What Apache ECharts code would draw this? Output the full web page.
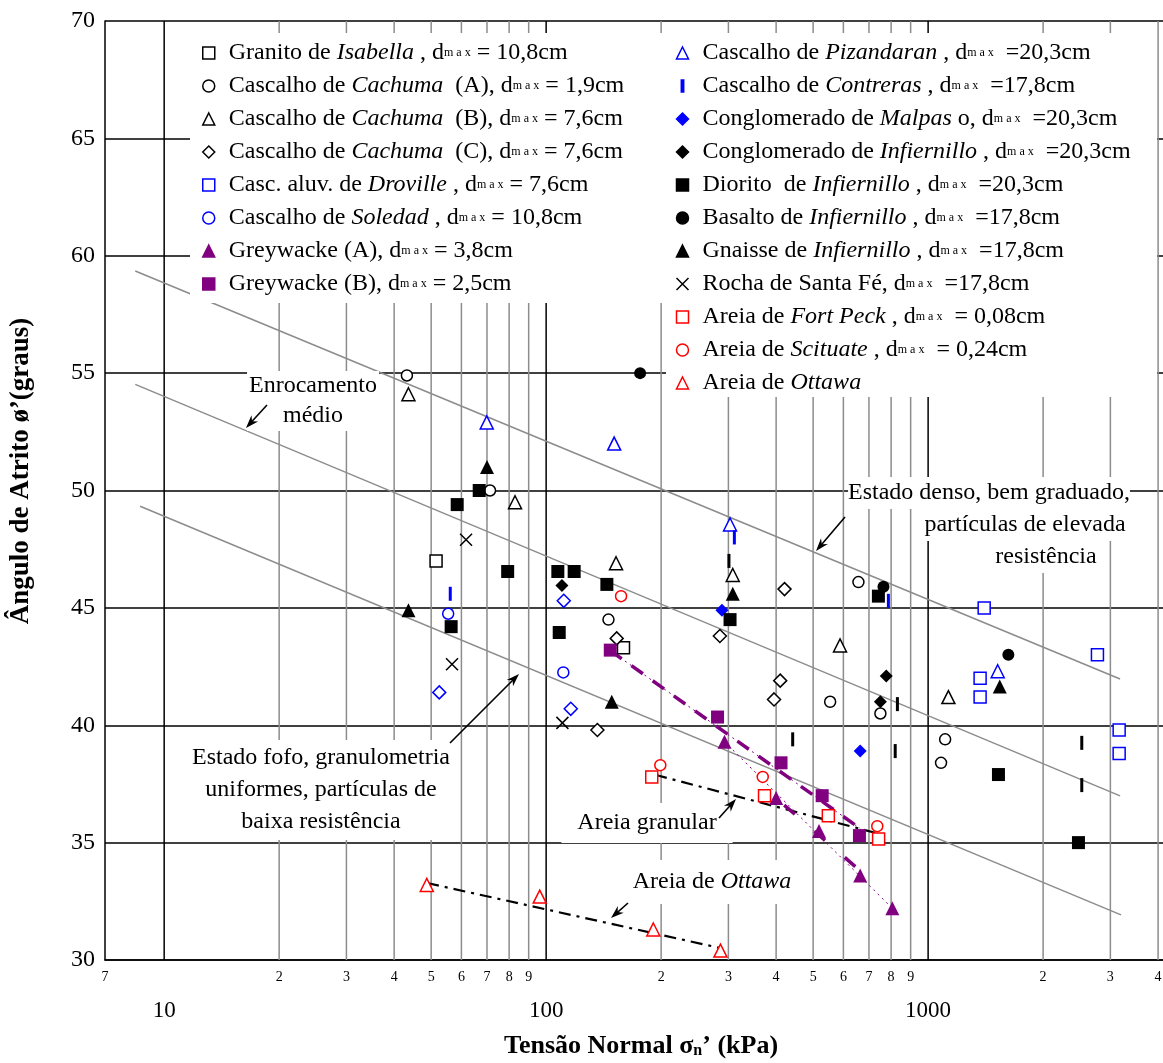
<!DOCTYPE html>
<html><head><meta charset="utf-8">
<script src="https://cdn.jsdelivr.net/npm/echarts@6/dist/echarts.min.js"></script>
<style>html,body{margin:0;padding:0;background:#fff}#c{width:1163px;height:1063px}</style>
</head><body><div id="c"></div>
<script>
const FONT = '"Liberation Serif", "Times New Roman", serif';

// ---------- data (x = tensão normal kPa, y = ângulo de atrito graus) ----------
const granito = [[51.5,47.0],[159.4,43.3]];
const cachumaA = [[43.2,54.9],[71.3,50.0],[145.6,44.5],[657,46.1],[554,41.0],[750,40.5],[1108,39.4],[1081,38.4]];
const cachumaB = [[43.6,54.1],[82.9,49.5],[152.4,46.9],[308,46.4],[588,43.4],[1130,41.2]];
const cachumaC = [[136.2,39.8],[153,43.7],[285,43.8],[420.8,45.8],[410,41.9],[395,41.1]];
const droville = [[1402,45.0],[1368,42.0],[1368,41.2],[2775,43.0],[3163,39.8],[3163,38.8]];
const soledad = [[55.4,44.75],[110.9,42.25]];
const losangoAzul = [[52.5,41.4],[111.2,45.3],[116,40.7]];
const greywackeA = [[293,39.3],[400,36.9],[518,35.5],[664,33.6],[806,32.2]];
const greywackeB = [[147.2,43.2],[281,40.35],[412,38.4],[528,37.0],[661,35.3]];
const pizandaran = [[69.9,52.9],[150.7,52.0],[303,48.55],[1521,42.3]];
const contreras = [[56.1,45.6],[311,48.0],[787,45.3]];
const barrasPretas = [[301,47.0],[442,39.4],[831,40.9],[820,38.9],[2525,39.25],[2525,37.45]];
const malpaso = [[288.5,44.9],[664,38.9]];
const conglInfiernillo = [[110,45.95],[777,42.1],[750,41.0]];
const diorito = [[58.5,49.4],[66.8,50.0],[56.4,44.2],[79.3,46.55],[107.3,46.55],[118.4,46.55],[108.2,43.95],[144.2,46.0],[303,44.5],[741,45.5],[1528,37.9],[2475,35.0]];
const basalto = [[176.2,55.0],[764,45.9],[1622,43.0]];
const gnaisse = [[43.6,44.9],[70,51.0],[148.5,41.0],[308,45.6],[1540,41.65]];
const santaFe = [[61.7,47.9],[56.7,42.6],[110.3,40.1]];
const fortPeck = [[189,37.8],[373,37.0],[548,36.15],[742,35.15]];
const scituate = [[157.1,45.5],[199,38.3],[369,37.8],[736,35.7]];
const ottawa = [[48.7,33.2],[96.2,32.7],[190.8,31.3],[286,30.4]];

// envelope lines and trend lines
const linhaSuperior = [[8.40,59.35],[3181,41.97]];
const linhaMedia = [[8.40,54.52],[3181,36.99]];
const linhaInferior = [[8.65,49.33],[3199,31.92]];
const tendOttawa = [[48.8,33.28],[285.5,30.51]];
const tendGranular = [[192.9,37.89],[726.6,35.42]];
const tendGreywackeB = [[147.2,43.18],[664,35.6]];
const tendGreywackeA = [[293,39.3],[806,32.2]];
const tendGreywackeA2 = [[420,36.6],[664,33.8]];

// ticks
const xMajorTicks = [10,100,1000];
const xMajorLabels = ['10','100','1000'];
const xMinorTicks = [20,30,40,50,60,70,80,90,200,300,400,500,600,700,800,900,2000,3000,4000];
const xMinorLabelValues = [7,20,30,40,50,60,70,80,90,200,300,400,500,600,700,800,900,2000,3000,4000];
const xMinorLabels = ['7','2','3','4','5','6','7','8','9','2','3','4','5','6','7','8','9','2','3','4'];

// legend
const legendLeftNames = ['Granito de Isabella','Cascalho de Cachuma (A)','Cascalho de Cachuma (B)','Cascalho de Cachuma (C)','Casc. aluv. de Droville','Cascalho de Soledad','Greywacke (A)','Greywacke (B)'];
const legendLeftTexts = [
 'Granito de {i|Isabella} , d{s|m a x} = 10,8cm',
 'Cascalho de {i|Cachuma}  (A), d{s|m a x} = 1,9cm',
 'Cascalho de {i|Cachuma}  (B), d{s|m a x} = 7,6cm',
 'Cascalho de {i|Cachuma}  (C), d{s|m a x} = 7,6cm',
 'Casc. aluv. de {i|Droville} , d{s|m a x} = 7,6cm',
 'Cascalho de {i|Soledad} , d{s|m a x} = 10,8cm',
 'Greywacke (A), d{s|m a x} = 3,8cm',
 'Greywacke (B), d{s|m a x} = 2,5cm'];
const legendRightNames = ['Cascalho de Pizandaran','Cascalho de Contreras','Conglomerado de Malpaso','Conglomerado de Infiernillo','Diorito de Infiernillo','Basalto de Infiernillo','Gnaisse de Infiernillo','Rocha de Santa Fé','Areia de Fort Peck','Areia de Scituate','Areia de Ottawa'];
const legendRightTexts = [
 'Cascalho de {i|Pizandaran} , d{s|m a x}  =20,3cm',
 'Cascalho de {i|Contreras} , d{s|m a x}  =17,8cm',
 'Conglomerado de {i|Malpas} o, d{s|m a x}  =20,3cm',
 'Conglomerado de {i|Infiernillo} , d{s|m a x}  =20,3cm',
 'Diorito  de {i|Infiernillo} , d{s|m a x}  =20,3cm',
 'Basalto de {i|Infiernillo} , d{s|m a x}  =17,8cm',
 'Gnaisse de {i|Infiernillo} , d{s|m a x}  =17,8cm',
 'Rocha de Santa Fé, d{s|m a x}  =17,8cm',
 'Areia de {i|Fort Peck} , d{s|m a x}  = 0,08cm',
 'Areia de {i|Scituate} , d{s|m a x}  = 0,24cm',
 'Areia de {i|Ottawa}'];

// ---------- styles ----------
const BLUE = '#0000ff', RED = '#ff0000', PURPLE = '#800080', BLACK = '#000';
const BAR = 'path://M0,0L2,0L2,10L0,10Z';
const CROSS = 'path://M0,0L10,10M10,0L0,10';
const FS = 24;

function sc(name, data, symbol, size, fill, stroke, bw) {
  return { type:'scatter', name, data, symbol, symbolSize:size, z:6, silent:true,
    itemStyle:{ color:fill, borderColor:stroke, borderWidth:bw, opacity:1 },
    emphasis:{ disabled:true } };
}
function ln(name, data, color, width, type, z) {
  return { type:'line', name, data, showSymbol:false, symbol:'none', silent:true, z:z||5,
    lineStyle:{ color, width, type }, emphasis:{ disabled:true } };
}

const richLegend = {
  i:{ fontStyle:'italic', fontFamily:FONT, fontSize:FS, lineHeight:24, color:'#000' },
  s:{ fontFamily:FONT, fontSize:12, lineHeight:24, color:'#000' }
};
const legendMap = {};
legendLeftNames.forEach((n,k)=>legendMap[n]=legendLeftTexts[k]);
legendRightNames.forEach((n,k)=>legendMap[n]=legendRightTexts[k]);

function arrow(x1,y1,x2,y2) {
  const dx = x2-x1, dy = y2-y1, L = Math.hypot(dx,dy), ux = dx/L, uy = dy/L;
  const hl = 13, hw = 4.5;
  const bx = x2-ux*hl, by = y2-uy*hl;
  return [
    { type:'line', z:4, silent:true, shape:{x1, y1, x2:x2-ux*6, y2:y2-uy*6}, style:{stroke:'#000', lineWidth:1.6} },
    { type:'polygon', z:4, silent:true, shape:{points:[[x2,y2],[bx-uy*hw,by+ux*hw],[x2-ux*9,y2-uy*9],[bx+uy*hw,by-ux*hw]]}, style:{fill:'#000'} }
  ];
}
function txt(x,y,text,opt) {
  return { type:'text', x, y, z:4, silent:true, style:Object.assign({
    text, font:FS+'px '+FONT, fill:'#000', align:'center', verticalAlign:'middle',
    textAlign:'center', textVerticalAlign:'middle', backgroundColor:'#fff', padding:[2,4]
  }, opt||{}) };
}

const graphics = [
  { type:'rect', z:3, silent:true, shape:{x:190,y:33,width:476,height:270}, style:{fill:'#fff'} },
  { type:'rect', z:3, silent:true, shape:{x:666,y:33,width:491,height:364}, style:{fill:'#fff'} },
  txt(313,401,'Enrocamento\nmédio',{lineHeight:30, padding:[0,2]}),
  txt(989,493,'Estado denso, bem graduado,',{padding:[4,0]}),
  txt(1025,525,'partículas de elevada',{padding:[4,2]}),
  txt(1046,557,'resistência',{padding:[4,6]}),
  txt(321,790,'Estado fofo, granulometria\nuniformes, partículas de\nbaixa resistência',{lineHeight:32, padding:[2,10]}),
  txt(647,823,'Areia granular',{padding:[8,16]}),
  { type:'text', x:712, y:882, z:4, silent:true, style:{
      text:'Areia de {it|Ottawa}', font:FS+'px '+FONT, fill:'#000', align:'center', verticalAlign:'middle',
      textAlign:'center', textVerticalAlign:'middle', backgroundColor:'#fff', padding:[10,4],
      rich:{ it:{ fontStyle:'italic', fontFamily:FONT, fontSize:FS } } } },
  ...arrow(267,405,246,428),
  ...arrow(845,517,816,551),
  ...arrow(450,743,519,674),
  ...arrow(719,818,736,799),
  ...arrow(628,903,611,918),
  { type:'text', x:641, y:1046, z:4, silent:true, style:{
      text:'Tensão Normal σ{sub|n}’ (kPa)', font:'bold 26px '+FONT, fill:'#000',
      align:'center', verticalAlign:'middle', textAlign:'center', textVerticalAlign:'middle',
      rich:{ sub:{ fontFamily:FONT, fontWeight:'bold', fontSize:16, padding:[10,0,0,0] } } } },
  { type:'text', x:21, y:471, rotation:Math.PI/2, z:4, silent:true, style:{
      text:'Ângulo de Atrito ø’(graus)', font:'bold 27px '+FONT, fill:'#000',
      align:'center', verticalAlign:'middle', textAlign:'center', textVerticalAlign:'middle' } }
];

const gridLineSeries = (vals, color) => ({
  type:'custom', silent:true, z:1, clip:false,
  data: vals.map(v=>[v,30]), encode:{x:0,y:1},
  renderItem:(params, api) => {
    const b = api.coord([api.value(0), 30]);
    const t = api.coord([api.value(0), 70]);
    return { type:'line', shape:{x1:b[0],y1:b[1],x2:t[0],y2:t[1]}, style:{stroke:color, lineWidth:1.5} };
  }
});
const tickLabelSeries = (vals, texts, dy, size) => ({
  type:'custom', silent:true, z:2, clip:false,
  data: vals.map(v=>[v,30]), encode:{x:0,y:1},
  renderItem:(params, api) => {
    const p = api.coord([api.value(0), 30]);
    return { type:'text', x:p[0], y:p[1]+dy, style:{ text:texts[params.dataIndex],
      font:size+'px '+FONT, fill:'#000', align:'center', verticalAlign:'middle',
      textAlign:'center', textVerticalAlign:'middle' } };
  }
});

const legendBase = {
  orient:'vertical', padding:0, itemWidth:12, itemHeight:12, itemGap:9, selectedMode:false, z:8,
  itemStyle:{ borderWidth:1.5 },
  textStyle:{ fontFamily:FONT, fontSize:FS, color:'#000', lineHeight:24, padding:[0,0,0,9], rich:richLegend },
  formatter: n => legendMap[n] || n
};

const option = {
  animation:false,
  backgroundColor:'#fff',
  grid:{ left:105, right:0, top:21, bottom:103, containLabel:false },
  xAxis:{ type:'log', logBase:10, min:7, max:4120,
    axisLine:{ show:true, onZero:false, lineStyle:{ color:'#000', width:1.5 } },
    axisTick:{ show:false }, axisLabel:{ show:false }, splitLine:{ show:false }, minorTick:{show:false} },
  yAxis:{ type:'value', min:30, max:70, interval:5,
    axisLine:{ show:true, lineStyle:{ color:'#000', width:1.5 } },
    axisTick:{ show:false },
    axisLabel:{ fontFamily:FONT, fontSize:24, color:'#000', margin:10 },
    splitLine:{ show:true, lineStyle:{ color:'#000', width:1.5 } } },
  legend:[
    Object.assign({}, legendBase, { left:202, top:41, data:legendLeftNames }),
    Object.assign({}, legendBase, { left:674, top:41, data:legendRightNames })
  ],
  graphic: graphics,
  series:[
    gridLineSeries(xMinorTicks, '#8c8c8c'),
    gridLineSeries(xMajorTicks, '#000'),
    tickLabelSeries(xMinorLabelValues, xMinorLabels, 17, 14),
    tickLabelSeries(xMajorTicks, xMajorLabels, 51, 23),
    ln('linhaSuperior', linhaSuperior, '#8c8c8c', 1.5, 'solid', 1),
    ln('linhaMedia', linhaMedia, '#8c8c8c', 1.5, 'solid', 1),
    ln('linhaInferior', linhaInferior, '#8c8c8c', 1.5, 'solid', 1),
    ln('tendOttawa', tendOttawa, '#000', 2.2, [12,6,3,6]),
    ln('tendGranular', tendGranular, '#000', 2.2, [12,6,3,6]),
    ln('tendGreywackeB', tendGreywackeB, PURPLE, 3.5, [14,12]),
    ln('tendGreywackeB2', tendGreywackeB, PURPLE, 1, [2,4]),
    ln('tendGreywackeA', tendGreywackeA, PURPLE, 1, [2,4]),
    ln('tendGreywackeA2', tendGreywackeA2, PURPLE, 3.5, [14,26]),
    sc('Granito de Isabella', granito, 'rect', 12, '#fff', BLACK, 1.5),
    sc('Cascalho de Cachuma (A)', cachumaA, 'circle', 11, '#fff', BLACK, 1.5),
    sc('Cascalho de Cachuma (B)', cachumaB, 'triangle', 13, '#fff', BLACK, 1.5),
    sc('Cascalho de Cachuma (C)', cachumaC, 'diamond', 13, '#fff', BLACK, 1.5),
    sc('Casc. aluv. de Droville', droville, 'rect', 12, '#fff', BLUE, 1.5),
    sc('Cascalho de Soledad', soledad, 'circle', 11, '#fff', BLUE, 1.5),
    sc('losangoAzul', losangoAzul, 'diamond', 13, '#fff', BLUE, 1.5),
    sc('Greywacke (A)', greywackeA, 'triangle', 14, PURPLE, PURPLE, 0),
    sc('Greywacke (B)', greywackeB, 'rect', 13, PURPLE, PURPLE, 0),
    sc('Cascalho de Pizandaran', pizandaran, 'triangle', 13, '#fff', BLUE, 1.5),
    sc('Cascalho de Contreras', contreras, BAR, [3,14], BLUE, BLUE, 0),
    sc('barrasPretas', barrasPretas, BAR, [3,14], BLACK, BLACK, 0),
    sc('Conglomerado de Malpaso', malpaso, 'diamond', 13, BLUE, BLUE, 0),
    sc('Conglomerado de Infiernillo', conglInfiernillo, 'diamond', 13, BLACK, BLACK, 0),
    sc('Diorito de Infiernillo', diorito, 'rect', 13, BLACK, BLACK, 0),
    sc('Basalto de Infiernillo', basalto, 'circle', 12, BLACK, BLACK, 0),
    sc('Gnaisse de Infiernillo', gnaisse, 'triangle', 14, BLACK, BLACK, 0),
    sc('Rocha de Santa Fé', santaFe, CROSS, 12, 'none', BLACK, 1.5),
    sc('Areia de Fort Peck', fortPeck, 'rect', 12, '#fff', RED, 1.5),
    sc('Areia de Scituate', scituate, 'circle', 11, '#fff', RED, 1.5),
    sc('Areia de Ottawa', ottawa, 'triangle', 13, '#fff', RED, 1.5)
  ]
};
const chart = echarts.init(document.getElementById('c'), null, { renderer:'canvas' });
chart.setOption(option);
</script>
</body></html>
